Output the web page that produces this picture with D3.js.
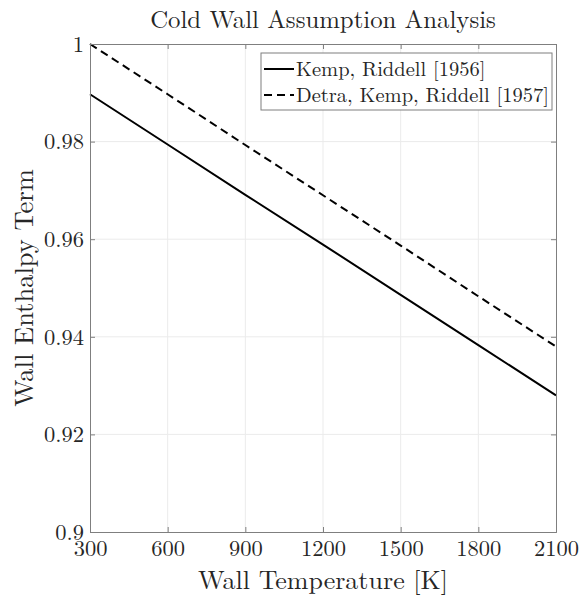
<!DOCTYPE html>
<html>
<head>
<meta charset="utf-8">
<script src="https://cdn.jsdelivr.net/npm/d3@7"></script>
<style>
  body { margin: 0; background: #fff; }
</style>
</head>
<body>
<div id="wrapper"></div>
<script>
// data
const temps = [300, 600, 900, 1200, 1500, 1800, 2100]
const kempRiddell = [0.9897, 0.9794, 0.9691, 0.9589, 0.9486, 0.9383, 0.9280]
const detraKempRiddell = [1.0000, 0.9897, 0.9793, 0.9690, 0.9587, 0.9483, 0.9380]
const xTicks = [300, 600, 900, 1200, 1500, 1800, 2100]
const yTicks = [0.9, 0.92, 0.94, 0.96, 0.98, 1]
const seriesNames = ["Kemp, Riddell [1956]", "Detra, Kemp, Riddell [1957]"]

function drawChart() {
  let dimensions = {
    width: 582,
    height: 601,
    margin: { top: 44, right: 26, bottom: 69, left: 90 },
  }
  dimensions.boundedWidth = dimensions.width - dimensions.margin.left - dimensions.margin.right
  dimensions.boundedHeight = dimensions.height - dimensions.margin.top - dimensions.margin.bottom

  const font = '"Latin Modern Roman", "Liberation Serif", serif'

  const wrapper = d3.select("#wrapper")
    .append("svg")
      .attr("width", dimensions.width)
      .attr("height", dimensions.height)

  const bounds = wrapper.append("g")
      .attr("transform", `translate(${dimensions.margin.left},${dimensions.margin.top})`)

  const xScale = d3.scaleLinear([300, 2100], [0, dimensions.boundedWidth])
  const yScale = d3.scaleLinear([0.9, 1], [dimensions.boundedHeight, 0])

  // grid
  bounds.append("g").selectAll("line")
    .data(xTicks.slice(1, -1))
    .join("line")
      .attr("x1", d => xScale(d)).attr("x2", d => xScale(d))
      .attr("y1", 0).attr("y2", dimensions.boundedHeight)
      .attr("stroke", "#ebebeb")
  bounds.append("g").selectAll("line")
    .data(yTicks.slice(1, -1))
    .join("line")
      .attr("y1", d => yScale(d)).attr("y2", d => yScale(d))
      .attr("x1", 0).attr("x2", dimensions.boundedWidth)
      .attr("stroke", "#ebebeb")

  // lines
  const line = vals => d3.line()
    .x((d, i) => xScale(temps[i]))
    .y(d => yScale(d))(vals)

  bounds.append("path")
      .attr("d", line(kempRiddell))
      .attr("fill", "none")
      .attr("stroke", "#000")
      .attr("stroke-width", 2)
  bounds.append("path")
      .attr("d", line(detraKempRiddell))
      .attr("fill", "none")
      .attr("stroke", "#000")
      .attr("stroke-width", 2)
      .attr("stroke-dasharray", "8,5")

  // axes (box with inward ticks)
  const tickLen = 5
  const xAxisB = d3.axisBottom(xScale).tickValues(xTicks).tickSize(-tickLen).tickPadding(8)
    .tickFormat(d3.format("d"))
  const xAxisT = d3.axisTop(xScale).tickValues(xTicks).tickSize(-tickLen).tickFormat("")
  const yAxisL = d3.axisLeft(yScale).tickValues(yTicks).tickSize(-tickLen).tickPadding(6)
    .tickFormat(d => d === 1 ? "1" : d3.format(".2~f")(d))
  const yAxisR = d3.axisRight(yScale).tickValues(yTicks).tickSize(-tickLen).tickFormat("")

  const styleAxis = g => {
    g.select(".domain").attr("stroke", "#7f7f7f")
    g.selectAll(".tick line").attr("stroke", "#7f7f7f")
    g.selectAll(".tick text")
      .attr("fill", "#262626")
      .style("font-family", font)
      .style("font-size", "22.5px")
  }
  bounds.append("g").attr("transform", `translate(0,${dimensions.boundedHeight})`).call(xAxisB).call(styleAxis)
  bounds.append("g").call(xAxisT).call(styleAxis)
  bounds.append("g").call(yAxisL).call(styleAxis)
  bounds.append("g").attr("transform", `translate(${dimensions.boundedWidth},0)`).call(yAxisR).call(styleAxis)

  // titles
  const label = (x, y, txt, size) => wrapper.append("text")
      .attr("x", x).attr("y", y)
      .attr("text-anchor", "middle")
      .attr("fill", "#262626")
      .style("font-family", font)
      .style("font-size", size)
      .text(txt)

  label(dimensions.margin.left + dimensions.boundedWidth / 2, 28, "Cold Wall Assumption Analysis", "24.8px")
  label(dimensions.margin.left + dimensions.boundedWidth / 2, 589, "Wall Temperature [K]", "26px")
  label(0, 0, "Wall Enthalpy Term", "26.5px")
      .attr("transform", `translate(33,${dimensions.margin.top + dimensions.boundedHeight / 2}) rotate(-90)`)

  // legend
  const legend = wrapper.append("g").attr("transform", "translate(261,53)")
  legend.append("rect")
      .attr("width", 291).attr("height", 57)
      .attr("fill", "#fff").attr("stroke", "#7f7f7f")
  const items = legend.selectAll("g")
    .data(seriesNames)
    .join("g")
      .attr("transform", (d, i) => `translate(0,${16 + i * 26})`)
  items.append("line")
      .attr("x1", 3).attr("x2", 33)
      .attr("stroke", "#000").attr("stroke-width", 2)
      .attr("stroke-dasharray", (d, i) => i === 1 ? "8,5" : null)
  items.append("text")
      .attr("x", 35).attr("dy", "0.35em")
      .attr("fill", "#262626")
      .style("font-family", font)
      .style("font-size", "20.5px")
      .text(d => d)
}

drawChart()
</script>
</body>
</html>
